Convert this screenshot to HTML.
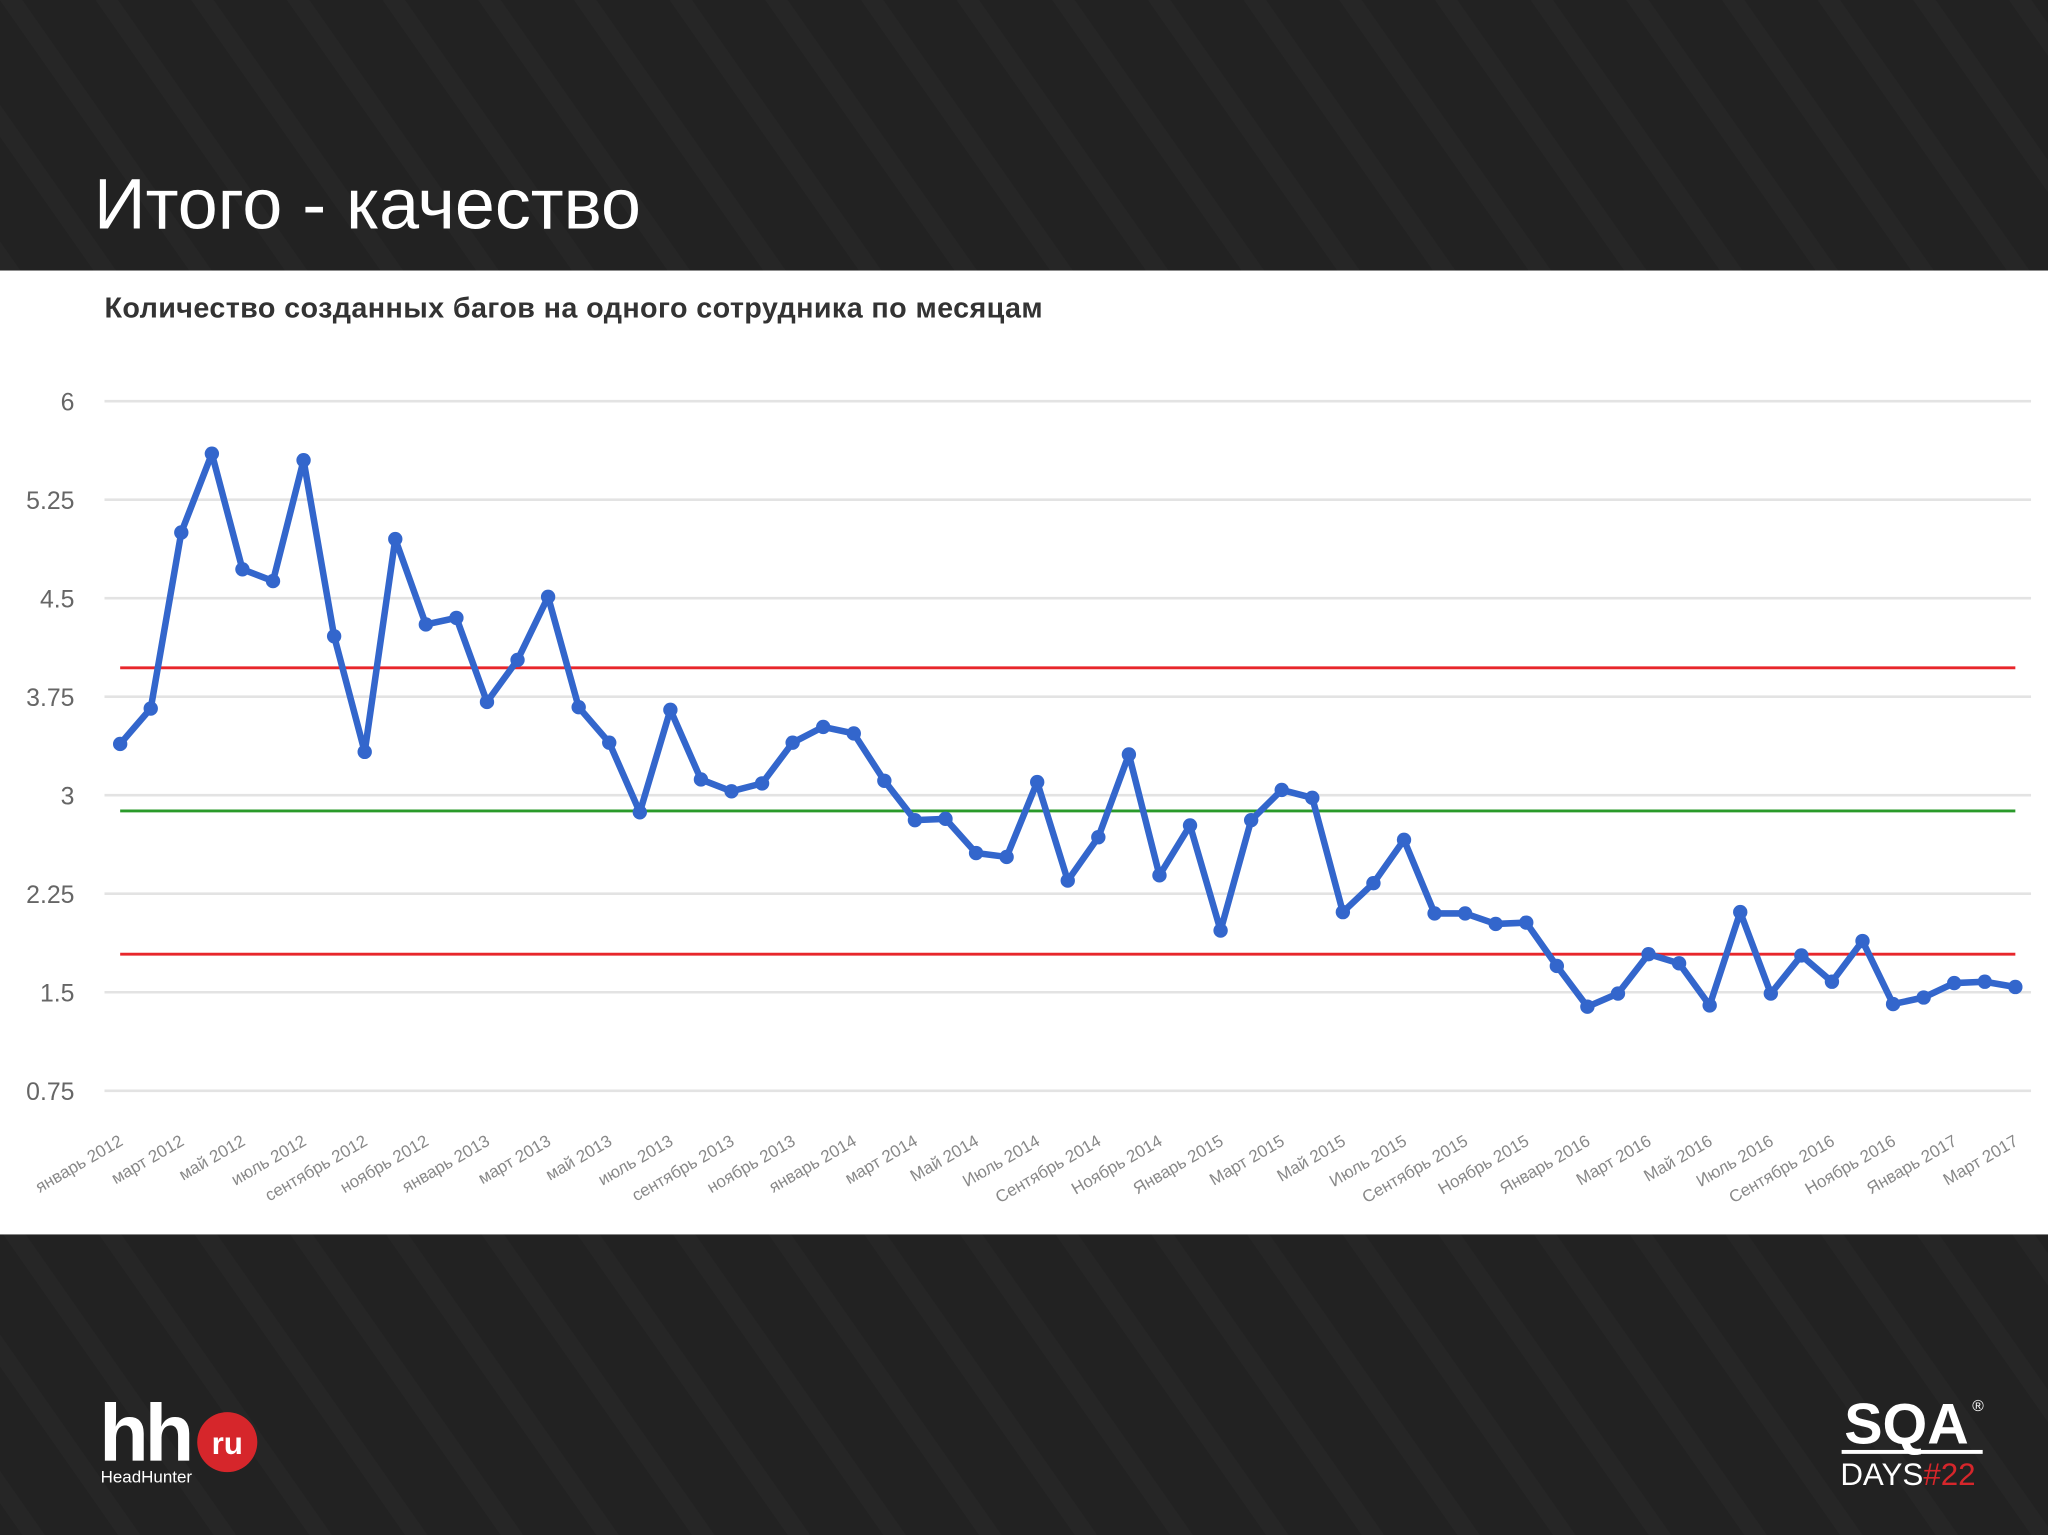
<!DOCTYPE html>
<html><head><meta charset="utf-8"><style>
html,body{margin:0;padding:0;background:#232323;overflow:hidden}
svg{display:block}
text{font-family:"Liberation Sans","DejaVu Sans",sans-serif}
</style></head><body>
<svg id="s" width="2048" height="1535" viewBox="0 0 1568 1175" xmlns="http://www.w3.org/2000/svg">
<defs>
<pattern id="st" width="60" height="60" patternUnits="userSpaceOnUse" patternTransform="rotate(-35)">
<rect width="60" height="60" fill="#222"/><rect width="14" height="60" fill="#262626"/>
</pattern>
</defs>
<rect width="1568" height="1175" fill="url(#st)"/>
<text x="72" y="175" font-size="55" fill="#fff">Итого - качество</text>
<rect x="0" y="207" width="1568" height="738" fill="#fff"/>
<text x="80" y="243" font-size="22" font-weight="bold" fill="#333" letter-spacing="0.3">Количество созданных багов на одного сотрудника по месяцам</text>
<g id="grid"></g><g id="ylab"></g><g id="ref"></g><g id="series"></g><g id="xlab"></g>
<g>
<text x="76" y="1118" font-size="62" font-weight="bold" fill="#fff" letter-spacing="-3">hh</text>
<circle cx="174" cy="1104" r="23" fill="#d6262b"/>
<text x="174" y="1113" font-size="24" font-weight="bold" fill="#fff" text-anchor="middle">ru</text>
<text x="77" y="1135" font-size="13" fill="#fff">HeadHunter</text>
</g>
<g>
<text x="1412" y="1105" font-size="44" font-weight="bold" fill="#fff">SQA</text>
<rect x="1410" y="1110" width="108" height="3" fill="#fff"/>
<text x="1409" y="1137" font-size="24" fill="#fff">DAYS<tspan fill="#d6262b">#22</tspan></text>
<text x="1510" y="1080" font-size="12" fill="#fff">®</text>
</g>
</svg>
<script>
const ticks=[0.75,1.5,2.25,3,3.75,4.5,5.25,6];
const tickLabels=["0.75","1.5","2.25","3","3.75","4.5","5.25","6"];
const values=[3.39,3.66,5.0,5.6,4.72,4.63,5.55,4.21,3.33,4.95,4.3,4.35,3.71,4.03,4.51,3.67,3.40,2.87,3.65,3.12,3.03,3.09,3.40,3.52,3.47,3.11,2.81,2.82,2.56,2.53,3.10,2.35,2.68,3.31,2.39,2.77,1.97,2.81,3.04,2.98,2.11,2.33,2.66,2.10,2.10,2.02,2.03,1.70,1.39,1.49,1.79,1.72,1.40,2.11,1.49,1.78,1.58,1.89,1.41,1.46,1.57,1.58,1.54];
const monthLabels=["январь 2012","март 2012","май 2012","июль 2012","сентябрь 2012","ноябрь 2012","январь 2013","март 2013","май 2013","июль 2013","сентябрь 2013","ноябрь 2013","январь 2014","март 2014","Май 2014","Июль 2014","Сентябрь 2014","Ноябрь 2014","Январь 2015","Март 2015","Май 2015","Июль 2015","Сентябрь 2015","Ноябрь 2015","Январь 2016","Март 2016","Май 2016","Июль 2016","Сентябрь 2016","Ноябрь 2016","Январь 2017","Март 2017"];
const upperLimit=3.97, meanLine=2.88, lowerLimit=1.79;

const NS="http://www.w3.org/2000/svg";
const y=v=>307+(6-v)*(528/5.25);
const x=i=>92+i*(1451/(values.length-1));
function mk(t,a,p){const e=document.createElementNS(NS,t);for(const k in a)e.setAttribute(k,a[k]);p.appendChild(e);return e;}
const G=id=>document.getElementById(id);
ticks.forEach((t,i)=>{
  const l=mk('line',{x1:80,x2:1555,y1:y(t),y2:y(t),stroke:'#e3e3e3','stroke-width':2},G('grid'));
  
  
  const tx=mk('text',{x:57,y:y(t)+7,'font-size':19,fill:'#666','text-anchor':'end'},G('ylab'));
  tx.textContent=tickLabels[i];
  
  
});
[[upperLimit,'#e8262b','upper-limit-line'],[meanLine,'#2a9a2a','mean-line'],[lowerLimit,'#e8262b','lower-limit-line']].forEach(r=>{
  const l=mk('line',{x1:92,x2:1543,y1:y(r[0]),y2:y(r[0]),stroke:r[1],'stroke-width':2.2},G('ref'));
  
  
});
const pl=mk('polyline',{points:values.map((v,i)=>x(i)+','+y(v)).join(' '),fill:'none',stroke:'#3366cc','stroke-width':5,'stroke-linejoin':'round'},G('series'));


values.forEach((v,i)=>{
  const c=mk('circle',{cx:x(i),cy:y(v),r:5.5,fill:'#3366cc'},G('series'));
  
  
});
monthLabels.forEach((m,i)=>{
  const px=x(i*2)+3, py=876;
  const t=mk('text',{x:px,y:py,'font-size':13,fill:'#888','text-anchor':'end',transform:`rotate(-30 ${px} ${py})`},G('xlab'));
  t.textContent=m;
  
  
});
</script>
</body></html>
